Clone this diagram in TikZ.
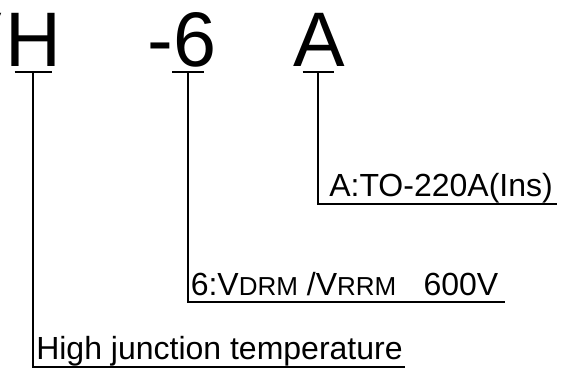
\documentclass[tikz,border=0pt]{standalone}
\usepackage{fontspec}
\setmainfont{Liberation Sans}
\usetikzlibrary{calc}
\definecolor{ink}{HTML}{000000}
\tikzset{
  big/.style={inner sep=0pt,anchor=base,font=\fontsize{58}{60}\selectfont,text=ink},
  lbl/.style={inner sep=0pt,anchor=base west,font=\fontsize{24}{28}\selectfont,text=ink},
  ln/.style={draw=ink,line width=1.1pt},
}
\newcommand{\vsub}[1]{{\fontsize{19.5}{22}\selectfont #1}}

\begin{document}
\begin{tikzpicture}[x=0.75pt,y=-0.75pt]
  \useasboundingbox (0,0) rectangle (567,374);
  \node[big,anchor=base east] (prev) at (2.5,66.5) {V};
  \node[big] (letH) at (33.5,66.5) {H};
  \node[big,anchor=base west] (let6) at (147,66.5) {-6};
  \node[big] (letA) at (319.5,66.5) {A};
  \node[lbl] (labA) at (329,196) {A:TO-220A(Ins)};
  \node[lbl] (lab6) at (190.5,295) {6:V\vsub{DRM} /V\vsub{RRM}\hspace{0.85em}600V};
  \node[lbl] (labH) at (36,359) {High junction temperature};
  % marks under the code letters
  \coordinate (uH) at ($(letH.base)+(-0.5,5.5)$);
  \coordinate (u6) at ($(let6.base west)+(41,5.5)$);
  \coordinate (uA) at ($(letA.base)+(-1.5,5.5)$);
  \draw[ln] ($(uH)+(-18.5,0)$) -- ($(uH)+(18.5,0)$);
  \draw[ln] ($(u6)+(-16,0)$) -- ($(u6)+(16,0)$);
  \draw[ln] ($(uA)+(-15.5,0)$) -- ($(uA)+(15.5,0)$);
  % leaders to the labels
  \draw[ln] (uA) |- ($(labA.base east)+(4,8)$);
  \draw[ln] (u6) |- ($(lab6.base east)+(6,7)$);
  \draw[ln] (uH) |- ($(labH.base east)+(2,8)$);
\end{tikzpicture}
\end{document}
